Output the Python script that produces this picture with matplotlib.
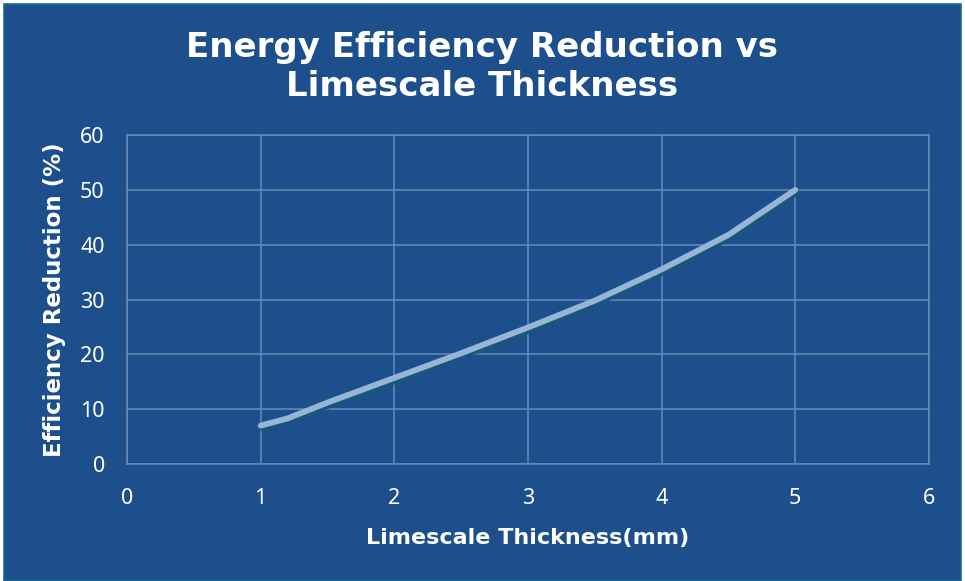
import matplotlib.pyplot as plt
import matplotlib.patheffects as pe
from matplotlib.patches import Rectangle

# limescale thickness (mm) vs. efficiency loss (%)
thickness = [1, 1.2, 1.5, 2, 2.5, 3, 3.5, 4, 4.5, 5]
reduction = [7, 8.3, 11.2, 15.7, 20.2, 24.9, 29.8, 35.5, 41.8, 50]

x_ticks = [0, 1, 2, 3, 4, 5, 6]
y_ticks = [0, 10, 20, 30, 40, 50, 60]

bg = '#1c4f8c'
grid_col = '#6a8bb6'

fig = plt.figure(figsize=(9.65, 5.81), dpi=100, facecolor='white')
# blue card behind everything
fig.patches.append(Rectangle((0.004, 0.0), 0.992, 0.993, transform=fig.transFigure,
                             facecolor=bg, edgecolor='#1a6a8a', linewidth=1.2, zorder=-5))

ax = fig.add_axes([0.1316, 0.2014, 0.8311, 0.5662])
ax.set_zorder(2)
ax.set_facecolor(bg)

ax.plot(thickness, reduction, color='#98b4d7', linewidth=4.2, solid_capstyle='round',
        path_effects=[pe.SimpleLineShadow(offset=(1.2, -2), shadow_color='#1a5677', alpha=1),
                      pe.Normal()], zorder=3)

ax.set_xlim(0, 6)
ax.set_ylim(0, 60)
ax.set_xticks(x_ticks)
ax.set_yticks(y_ticks)
ax.grid(True, color=grid_col, linewidth=1.1)
for s in ax.spines.values():
    s.set_color(grid_col)
    s.set_linewidth(1.1)
ax.tick_params(length=0, colors='white')
ax.tick_params(axis='x', pad=17)
ax.tick_params(axis='y', pad=16)
for lab in ax.get_xticklabels() + ax.get_yticklabels():
    lab.set_fontfamily('Noto Sans')
    lab.set_fontsize(15.5)

ax.set_xlabel('Limescale Thickness(mm)', color='white', fontsize=16,
              fontweight='bold', family='DejaVu Sans', labelpad=14)
ax.set_ylabel('Efficiency Reduction (%)', color='white', fontsize=16.5,
              fontweight='bold', family='DejaVu Sans', labelpad=10)

fig.text(0.50, 0.885, 'Energy Efficiency Reduction vs\nLimescale Thickness',
         ha='center', va='center', color='white', fontsize=24.5, fontweight='bold',
         family='DejaVu Sans', linespacing=1.22, zorder=3)

fig.savefig('out.png', dpi=100, facecolor='white')
